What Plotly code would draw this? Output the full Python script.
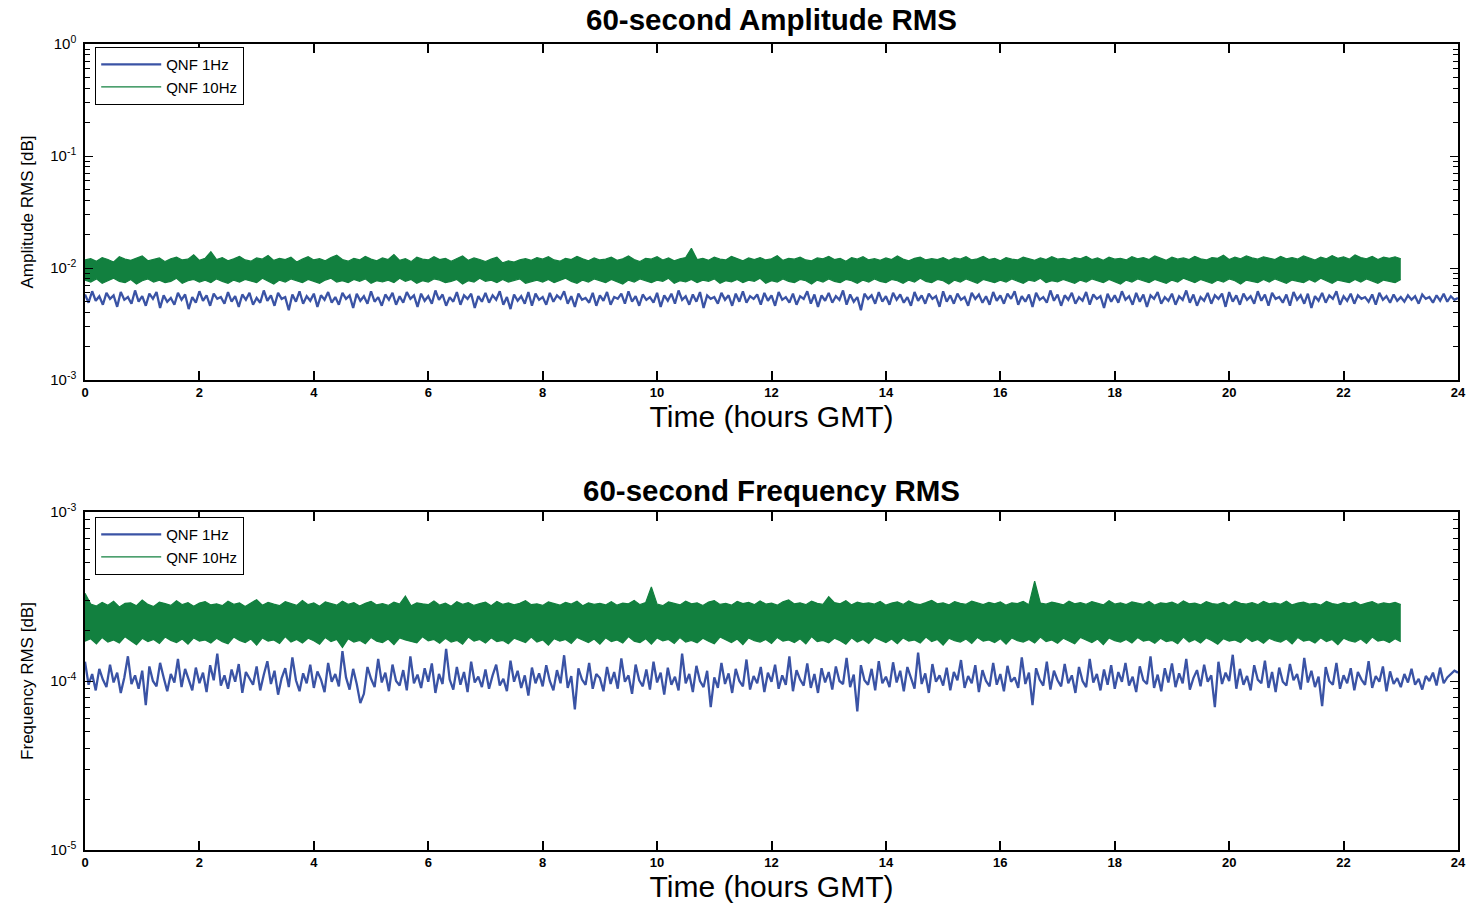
import numpy as np
import plotly.graph_objects as go

# ---------------- data ----------------
# Amplitude RMS, QNF 10Hz: upper / lower envelope every 0.1 h (units 1e-4), 0..23 h
amp_10hz_hi_e4 = [
118,121,115,124,119,113,126,120,117,122,128,116,119,123,114,121,125,118,120,131,117,122,140,
119,124,116,121,127,118,115,123,120,129,117,122,119,125,113,120,126,118,121,116,124,130,119,
115,122,118,127,120,116,123,119,132,117,121,114,125,120,118,126,119,122,115,121,128,117,123,
119,114,120,125,111,116,113,118,121,117,124,120,126,118,115,122,119,127,121,116,123,118,120,
125,117,121,128,119,114,122,120,126,118,123,116,121,124,150,119,122,117,125,120,118,127,121,
116,123,119,124,118,121,129,117,122,120,125,118,116,123,121,127,119,122,115,124,120,126,118,
121,117,123,119,128,120,116,122,125,118,121,119,124,117,123,120,126,118,121,127,119,122,116,
124,120,118,125,121,117,123,119,126,120,122,118,124,121,127,119,123,117,125,120,122,118,126,
121,124,119,128,122,117,125,120,123,119,127,121,118,124,122,130,119,125,121,128,123,120,126,
122,119,127,121,124,120,128,123,118,125,121,129,122,126,120,131,124,121,127,119,125,122,126,121]
amp_10hz_lo_e4 = [
78,75,80,73,77,81,76,74,79,72,77,80,75,78,74,76,81,73,77,79,75,78,74,
80,76,73,78,75,79,77,74,81,76,72,78,75,80,77,74,79,76,73,78,81,75,77,
74,79,76,80,73,77,75,78,74,81,76,79,73,77,75,80,78,74,76,79,72,77,75,
81,76,78,74,79,75,77,80,73,76,78,75,79,74,77,81,76,73,78,75,80,77,74,
79,76,72,78,75,80,77,74,78,76,81,73,77,75,79,74,78,76,80,73,77,75,79,
74,78,76,81,73,77,75,80,76,74,79,77,72,78,75,80,76,74,79,77,73,78,75,
80,76,74,79,77,73,78,75,81,76,74,79,77,72,78,75,80,76,73,79,77,74,78,
75,80,77,73,78,76,81,74,77,75,79,76,73,78,75,80,77,74,79,76,72,78,75,
80,77,74,79,76,73,78,75,81,77,74,79,76,73,78,75,80,77,72,78,76,74,79,
75,80,77,73,78,76,74,79,75,81,77,73,78,76,74,79,75,80,77,73,78,76,74,79]
# Amplitude RMS, QNF 1Hz: samples every 1/16 h (units 1e-4), 0..24 h
amp_1hz_e4 = [
58,49,62,51,56,47,60,53,57,45,61,52,55,48,63,50,
56,46,59,53,61,44,57,50,54,47,60,52,58,43,55,49,
62,51,57,46,59,53,55,48,61,50,56,45,58,52,60,47,
54,49,63,51,57,46,60,53,55,42,58,50,62,48,56,51,
59,45,57,52,61,49,55,47,60,53,57,44,59,51,56,48,
62,50,55,46,58,52,60,47,56,49,61,53,57,45,59,51,
56,48,63,52,58,46,55,50,61,47,57,53,59,44,56,50,
60,49,57,52,62,47,55,43,58,51,56,48,61,46,59,52,
55,47,60,50,57,53,62,48,56,45,59,52,54,49,60,46,
57,51,61,47,55,53,59,48,62,50,56,46,58,52,55,49,
60,45,57,51,59,48,63,52,56,47,58,50,61,44,57,53,
55,48,60,52,57,46,59,50,62,49,56,53,58,47,60,51,
57,46,61,52,55,49,59,47,56,53,62,48,58,45,57,51,
60,49,56,52,63,47,58,50,55,42,59,53,57,48,61,50,
56,47,60,52,58,49,55,46,61,51,57,48,59,53,56,45,
62,50,57,48,59,52,55,46,60,53,58,49,56,47,61,51,
57,48,59,53,62,47,56,50,58,45,60,52,55,49,63,51,
58,46,57,52,60,48,55,51,61,47,58,53,56,44,59,50,
57,49,62,52,56,47,60,50,58,45,57,53,61,48,55,51,
59,47,56,52,63,49,58,46,55,51,60,48,57,53,59,45,
61,50,57,47,59,52,56,48,62,51,58,46,60,53,55,49,
58,46,61,52,57,48,59,44,56,51,60,49,57,53,62,47,
56,51,59,48,57,53,55,50,58,47,60,52,56,49,58,51,
55,50,57,52,56,48,58,53,55,49,57,51,59,50,56,52,
54]

# Frequency RMS, QNF 10Hz: upper / lower envelope every 0.1 h (units 1e-6), 0..23 h
frq_10hz_hi_e6 = [
330,285,278,292,281,296,274,288,290,279,301,284,276,293,287,280,298,283,291,277,289,295,282,
286,279,297,284,290,276,288,303,281,292,285,279,295,287,280,299,283,290,277,294,286,281,297,
284,291,278,288,296,282,287,280,293,285,318,279,290,286,283,298,281,289,277,295,284,291,280,
287,293,279,296,284,290,282,288,299,283,286,280,294,287,281,292,285,297,279,290,284,288,282,
295,281,289,286,300,283,291,360,285,279,294,288,282,297,286,290,280,293,299,284,288,281,296,
287,292,283,298,285,289,281,294,302,286,290,283,297,288,284,315,291,286,299,282,293,287,290,
285,296,281,289,294,284,298,287,283,291,300,286,290,282,295,288,284,297,289,283,292,286,294,
281,290,287,296,283,390,289,285,293,288,282,297,286,291,284,295,287,282,299,285,290,283,294,
288,284,296,281,290,287,293,283,298,286,289,282,295,287,284,292,281,297,288,285,291,283,296,
286,290,284,297,282,289,293,285,288,281,296,287,283,291,286,294,282,289,295,284,290,286,292,283]
frq_10hz_lo_e6 = [
172,178,166,181,170,175,168,183,173,164,179,171,176,167,182,174,169,177,165,180,172,175,168,
179,171,166,182,174,169,177,163,180,172,175,167,183,170,176,168,179,173,165,181,171,176,158,
178,170,174,166,181,172,169,177,164,180,175,171,168,183,173,176,167,179,170,174,165,182,172,
176,168,180,171,174,166,179,173,169,182,170,175,163,178,172,176,167,181,174,169,177,165,180,
171,175,168,183,172,169,178,165,180,173,176,167,181,170,174,168,179,172,166,182,175,169,177,
164,180,173,170,176,167,181,172,175,169,178,166,183,171,174,168,179,173,165,180,170,176,167,
181,174,169,177,166,180,172,175,168,182,171,176,163,179,173,170,177,167,181,172,175,169,178,
165,180,173,170,176,168,182,171,175,167,179,172,166,181,174,169,177,164,180,173,170,176,168,
181,172,175,167,179,171,174,166,182,170,176,168,180,173,165,178,172,175,169,181,171,176,167,
179,173,170,177,166,181,172,175,168,180,171,176,164,179,173,170,177,167,182,172,175,169,178,171]
# Frequency RMS, QNF 1Hz: samples every 1/16 h (units 1e-6), 0..24 h
frq_1hz_e6 = [
130,95,110,88,118,102,92,125,98,112,85,105,140,96,108,90,
115,72,122,100,93,128,105,87,110,98,135,92,118,103,88,120,
97,112,86,124,101,145,94,108,90,117,99,126,85,113,104,95,
122,88,109,131,96,115,83,104,119,92,138,101,87,111,97,125,
91,114,102,86,128,99,110,93,150,105,89,118,96,74,84,121,
103,92,135,98,112,87,125,100,94,116,88,140,97,109,91,119,
99,127,85,110,96,155,102,89,121,95,113,86,130,98,106,92,
117,90,108,125,94,103,87,132,99,115,91,108,82,120,97,111,
93,124,100,88,116,97,142,91,107,68,119,102,95,128,90,110,
104,87,121,96,113,90,136,99,108,84,125,101,93,117,89,130,
98,112,83,120,95,106,88,145,97,110,86,123,100,92,115,70,
105,91,128,96,111,85,118,100,93,134,89,107,97,121,86,112,
99,125,90,108,95,140,87,116,102,94,127,91,110,85,119,98,
113,89,122,100,96,137,92,109,66,124,101,95,118,88,131,97,
106,92,129,98,115,87,121,103,90,147,96,111,85,126,99,108,
94,120,88,113,101,133,91,107,97,124,86,116,100,93,128,95,
110,87,123,99,105,91,138,96,112,72,119,102,94,130,89,115,
101,93,126,97,108,85,121,100,92,135,98,110,88,117,95,124,
90,113,99,128,94,106,86,122,101,96,140,91,109,87,119,98,
127,92,111,97,135,89,104,116,93,125,99,108,70,130,96,112,
100,143,90,118,95,107,88,124,102,97,132,91,113,86,120,99,
94,126,101,110,89,137,98,115,92,106,71,121,100,95,128,90,
108,97,119,88,113,102,95,131,91,107,99,122,87,114,96,104,
92,110,98,118,95,103,89,107,100,112,94,120,97,105,110,115,
112]

legend_names = ["QNF 1Hz", "QNF 10Hz"]
titles = ["60-second Amplitude RMS", "60-second Frequency RMS"]
ylabels = ["Amplitude RMS [dB]", "Frequency RMS [dB]"]
xlabel = "Time (hours GMT)"
x_ticks = list(range(0, 25, 2))

BLUE = "#3a53a5"
GREEN = "#12803f"
FONT = "Liberation Sans, Arial, sans-serif"

def hours(vals, step):
    return (np.arange(len(vals)) * step).tolist()

def scale(vals, f):
    return [v * f for v in vals]

fig = go.Figure()

panels = [
    (amp_1hz_e4, 1e-4, amp_10hz_lo_e4, amp_10hz_hi_e4, 1e-4, "x", "y", "legend"),
    (frq_1hz_e6, 1e-6, frq_10hz_lo_e6, frq_10hz_hi_e6, 1e-6, "x2", "y2", "legend2"),
]
for blue, bf, glo, ghi, gf, xa, ya, lg in panels:
    fig.add_trace(go.Scatter(x=hours(blue, 1 / 16), y=scale(blue, bf), mode="lines",
                             line=dict(color=BLUE, width=2.3), name=legend_names[0],
                             xaxis=xa, yaxis=ya, legend=lg, showlegend=True))
    fig.add_trace(go.Scatter(x=hours(glo, 0.1), y=scale(glo, gf), mode="lines",
                             line=dict(color=GREEN, width=1.2),
                             xaxis=xa, yaxis=ya, showlegend=False, hoverinfo="skip"))
    fig.add_trace(go.Scatter(x=hours(ghi, 0.1), y=scale(ghi, gf), mode="lines",
                             line=dict(color=GREEN, width=1.2), fill="tonexty",
                             fillcolor=GREEN, xaxis=xa, yaxis=ya, showlegend=False))
    fig.add_trace(go.Scatter(x=[None], y=[None], mode="lines",
                             line=dict(color=GREEN, width=1.3), name=legend_names[1],
                             xaxis=xa, yaxis=ya, legend=lg, showlegend=True))

W, H = 1468, 903
ML, MR, MT, MB = 85, 10, 44, 53
PH = H - MT - MB

def ylog_axis(lo, hi, domain, anchor, title):
    major = [10.0 ** p for p in range(lo, hi + 1)]
    text = ["10<sup>%d</sup>" % p for p in range(lo, hi + 1)]
    minor = [m * 10.0 ** p for p in range(lo, hi) for m in range(2, 10)]
    return dict(type="log", range=[lo, hi], domain=domain, anchor=anchor,
                tickmode="array", tickvals=major, ticktext=text, automargin=False,
                ticks="inside", ticklen=8, tickwidth=1.3, tickcolor="black",
                ticklabelstandoff=4,
                minor=dict(tickmode="array", tickvals=minor, ticks="inside",
                           ticklen=5, tickwidth=1.2, tickcolor="black", showgrid=False),
                showline=True, linecolor="black", linewidth=1.5, mirror="allticks",
                showgrid=False, zeroline=False,
                tickfont=dict(family=FONT, size=15, color="black"),
                title=dict(text=title, font=dict(family=FONT, size=17, color="black"),
                           standoff=12))

def x_axis(domain_anchor):
    return dict(range=[0, 24], tickmode="array", tickvals=x_ticks,
                ticktext=[str(t) for t in x_ticks], anchor=domain_anchor, automargin=False,
                ticks="inside", ticklen=9, tickwidth=1.5, tickcolor="black",
                showline=True, linecolor="black", linewidth=1.5, mirror="allticks",
                showgrid=False, zeroline=False,
                tickfont=dict(family=FONT, size=13, color="black", weight="bold"),
                title=dict(text=xlabel, font=dict(family=FONT, size=30, color="black"),
                           standoff=6))

top_dom = [1 - 336 / PH, 1]
bot_dom = [0, 338 / PH]

legend_style = dict(bgcolor="white", bordercolor="black", borderwidth=1.2,
                    font=dict(family=FONT, size=15, color="black"),
                    xanchor="left", yanchor="top", tracegroupgap=0, itemwidth=60,
                    traceorder="normal")

fig.update_layout(
    width=W, height=H, margin=dict(l=ML, r=MR, t=MT, b=MB, autoexpand=False),
    paper_bgcolor="white", plot_bgcolor="white",
    xaxis=x_axis("y"), xaxis2=x_axis("y2"),
    yaxis=ylog_axis(-3, 0, top_dom, "x", ylabels[0]),
    yaxis2=ylog_axis(-5, -3, bot_dom, "x2", ylabels[1]),
    legend=dict(x=10 / 1373, y=(H - MB - 47) / PH, **legend_style),
    legend2=dict(x=10 / 1373, y=(H - MB - 517) / PH, **legend_style),
    annotations=[
        dict(text="<b>%s</b>" % titles[0], xref="paper", yref="paper", x=0.5,
             y=(H - MB - 20) / PH, showarrow=False, yanchor="middle",
             font=dict(family=FONT, size=29.5, color="black")),
        dict(text="<b>%s</b>" % titles[1], xref="paper", yref="paper", x=0.5,
             y=(H - MB - 490) / PH, showarrow=False, yanchor="middle",
             font=dict(family=FONT, size=29.5, color="black")),
    ],
    showlegend=True,
)

fig.write_html("out.html")
